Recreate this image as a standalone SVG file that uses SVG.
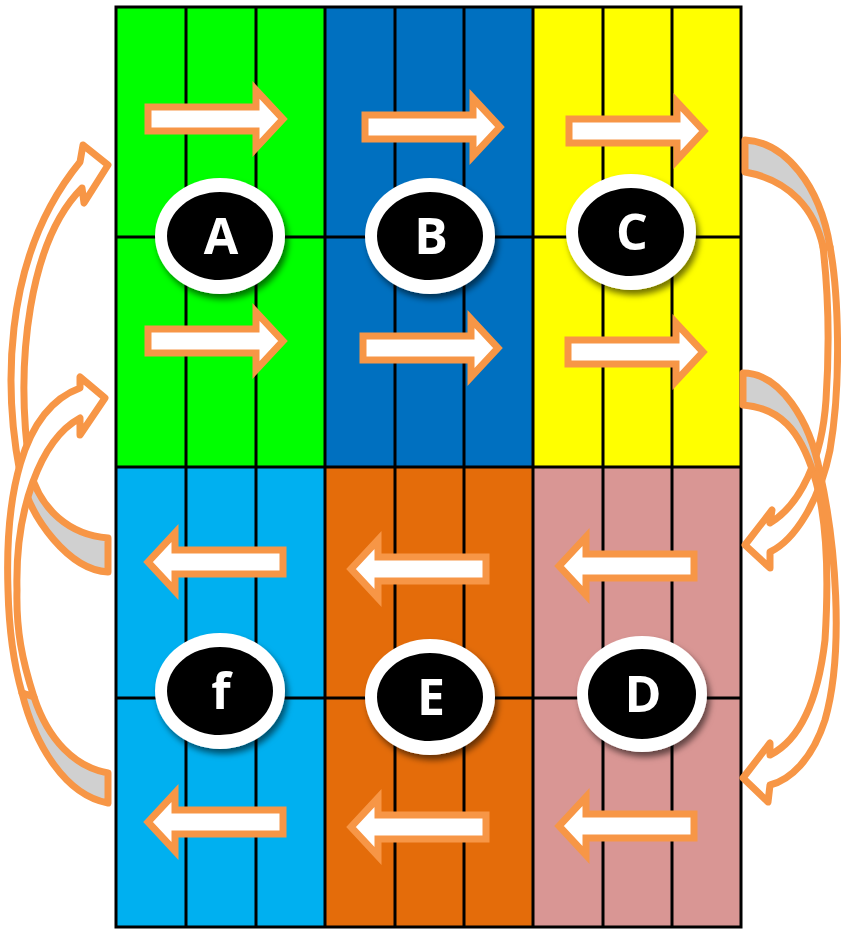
<svg xmlns="http://www.w3.org/2000/svg" width="841" height="929" viewBox="0 0 841 929">
<style>
.grid{stroke:#000;stroke-width:3;fill:none}
.arr{fill:#fff;stroke:#F79646;stroke-width:7;stroke-linejoin:miter}
.carr{fill:#fff;stroke:#F79646;stroke-width:7;stroke-linejoin:round}
.gray{fill:#D0D0D0;stroke:#F79646;stroke-width:7;stroke-linejoin:round}
.ring{fill:#fff}
.core{fill:#000}
.lbl{font-family:"Open Sans","Liberation Sans",sans-serif;font-weight:bold;font-size:50px;fill:#fff;text-anchor:middle}
</style>
<defs>
<path id="ra" d="M0,-12 H108 V-29 L135,0 L108,29 V12 H0 Z"/>
<filter id="sh" x="-30%" y="-30%" width="160%" height="160%">
<feDropShadow dx="3" dy="5" stdDeviation="3" flood-color="#000" flood-opacity="0.55"/>
</filter>
</defs>
<rect width="841" height="929" fill="#fff"/>
<g id="cellA"><rect x="116" y="7" width="209" height="460" fill="#00FF00"/></g>
<g id="cellB"><rect x="325" y="7" width="208" height="460" fill="#0070C0"/></g>
<g id="cellC"><rect x="533" y="7" width="208" height="460" fill="#FFFF00"/></g>
<g id="cellF"><rect x="116" y="467" width="209" height="460" fill="#00B0F0"/></g>
<g id="cellE"><rect x="325" y="467" width="208" height="460" fill="#E46C0A"/></g>
<g id="cellD"><rect x="533" y="467" width="208" height="460" fill="#D99694"/></g>
<g id="grid" class="grid">
<rect x="116" y="7" width="625" height="920"/>
<path d="M186,7V927M256,7V927M325,7V927M395,7V927M464,7V927M533,7V927M603,7V927M672,7V927M116,237H741M116,467H741M116,698H741"/>
</g>
<g id="connectors">
<use href="#ra" class="arr" transform="translate(148,119)"/>
<use href="#ra" class="arr" transform="translate(148,341)"/>
<use href="#ra" class="arr" transform="translate(365,127)"/>
<use href="#ra" class="arr" transform="translate(363,348)"/>
<use href="#ra" class="arr" transform="translate(569,131)"/>
<use href="#ra" class="arr" transform="translate(568,352)"/>
<use href="#ra" class="arr" transform="translate(283,562) scale(-1,1)"/>
<use href="#ra" class="arr" transform="translate(486,569) scale(-1,1)"/>
<use href="#ra" class="arr" transform="translate(694,566) scale(-1,1)"/>
<use href="#ra" class="arr" transform="translate(283,822) scale(-1,1)"/>
<use href="#ra" class="arr" transform="translate(486,827) scale(-1,1)"/>
<use href="#ra" class="arr" transform="translate(694,826) scale(-1,1)"/>
<path class="carr" d="M20,473 C6,400 -2,262 80,162 L83,145 L108,165 L84,203 L82,188 C30,240 14,360 30,470 Z"/>
<path class="gray" d="M108,572 C70,570 30,520 20,473 L30,470 C40,510 70,535 108,538 Z"/>
<path class="carr" d="M80,388 C20,410 5,500 8,590 C9,630 14,665 22,693 L34,697 C22,660 16,630 17,590 C15,510 40,440 80,418 L80,435 L105,398 L80,377 Z"/>
<path class="gray" d="M22,693 C35,745 65,795 108,803 L108,773 C75,767 48,740 34,697 Z"/>
<path class="gray" d="M745,140 C785,142 820,185 830,247 L823,247 C815,210 790,180 745,172 Z"/>
<path class="carr" d="M830,247 C838,290 842,380 830,450 C820,500 795,540 770,552 L770,568 L745,545 L772,510 L770,523 C800,505 822,460 826,400 C830,340 828,290 823,247 Z"/>
<path class="gray" d="M743,373 C780,373 810,420 820,473 L814,475 C800,430 780,408 743,405 Z"/>
<path class="carr" d="M820,473 C835,540 845,650 825,720 C812,760 790,780 770,785 L768,802 L743,778 L770,743 L770,755 C800,740 818,700 825,640 C830,560 825,510 814,475 Z"/>
</g>
<g id="nodeA"><ellipse class="ring" cx="220" cy="236" rx="65" ry="58" filter="url(#sh)"/><ellipse class="core" cx="220" cy="236" rx="53" ry="44"/><text class="lbl" x="221" y="254">A</text></g>
<g id="nodeB"><ellipse class="ring" cx="430" cy="236" rx="65" ry="58" filter="url(#sh)"/><ellipse class="core" cx="430" cy="236" rx="53" ry="44"/><text class="lbl" x="431" y="254">B</text></g>
<g id="nodeC"><ellipse class="ring" cx="631" cy="232" rx="65" ry="58" filter="url(#sh)"/><ellipse class="core" cx="631" cy="232" rx="53" ry="44"/><text class="lbl" x="632" y="250">C</text></g>
<g id="nodeF"><ellipse class="ring" cx="220" cy="691" rx="65" ry="58" filter="url(#sh)"/><ellipse class="core" cx="220" cy="691" rx="53" ry="44"/><text class="lbl" x="221" y="709">f</text></g>
<g id="nodeE"><ellipse class="ring" cx="430" cy="697" rx="65" ry="58" filter="url(#sh)"/><ellipse class="core" cx="430" cy="697" rx="53" ry="44"/><text class="lbl" x="431" y="715">E</text></g>
<g id="nodeD"><ellipse class="ring" cx="642" cy="694" rx="65" ry="58" filter="url(#sh)"/><ellipse class="core" cx="642" cy="694" rx="54" ry="45"/><text class="lbl" x="643" y="712">D</text></g>
</svg>
